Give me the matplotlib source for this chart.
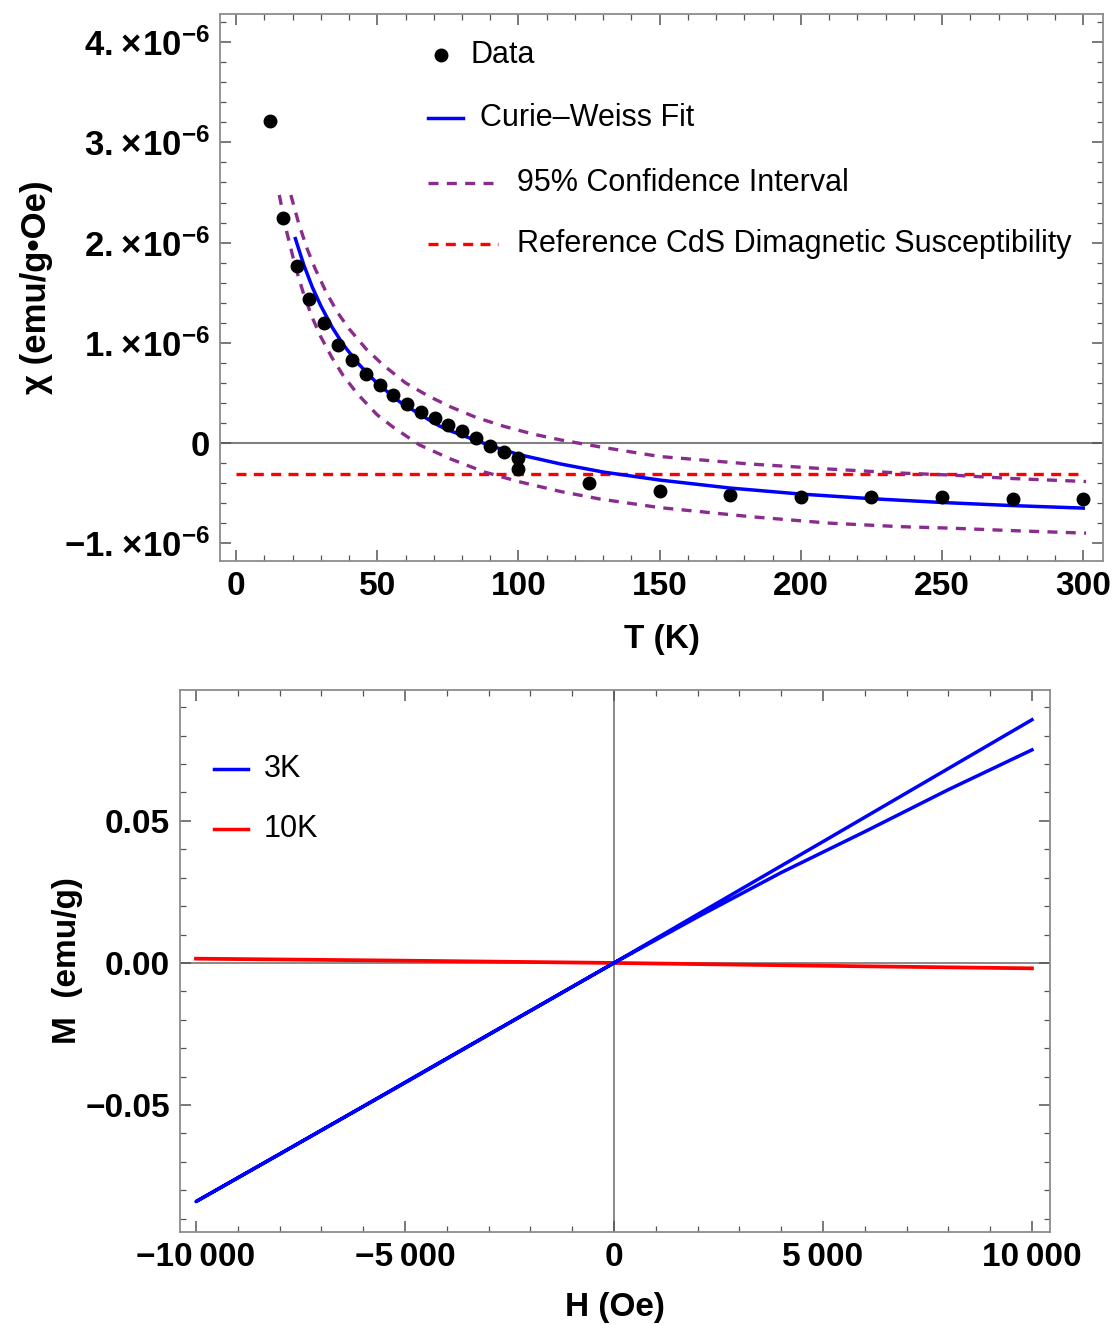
import numpy as np
import matplotlib
matplotlib.use('Agg')
import matplotlib.pyplot as plt
from matplotlib.ticker import MultipleLocator, FixedLocator, FuncFormatter
from matplotlib.lines import Line2D

plt.rcParams['font.family'] = ['Liberation Sans', 'DejaVu Sans']
plt.rcParams['mathtext.fontset'] = 'custom'
plt.rcParams['mathtext.rm'] = 'Liberation Sans'
plt.rcParams['mathtext.bf'] = 'Liberation Sans:bold'

# susceptibility vs temperature, chi in units of 1e-6 emu/(g Oe)
T_data = [12, 16.5, 21.5, 26, 31, 36, 41, 46, 51, 55.5, 60.5, 65.5, 70.5, 75, 80,
          85, 90, 95, 100, 100, 125, 150, 175, 200, 225, 250, 275, 300]
chi_data = [3.21, 2.245, 1.77, 1.44, 1.195, 0.98, 0.83, 0.69, 0.576, 0.48, 0.39,
            0.31, 0.25, 0.18, 0.12, 0.05, -0.03, -0.09, -0.15, -0.26, -0.40, -0.48,
            -0.52, -0.54, -0.535, -0.535, -0.56, -0.56]

T_fit = [21, 24, 27, 30, 34, 38, 43, 50, 58, 66, 72, 76, 85, 92, 100, 115, 130,
         150, 175, 200, 225, 250, 275, 300]
chi_fit = [2.04, 1.776, 1.555, 1.37, 1.156, 0.98, 0.80, 0.594, 0.41, 0.27, 0.17,
           0.12, 0.025, -0.045, -0.115, -0.21, -0.29, -0.37, -0.45, -0.51, -0.556,
           -0.594, -0.625, -0.65]

T_ci_hi = [19.4, 22, 25, 28, 32, 36, 40, 46, 52, 60, 68, 76, 85, 95, 105, 115, 129,
           150, 182, 210, 235, 253, 275, 301]
chi_ci_hi = [2.475, 2.21, 1.95, 1.74, 1.50, 1.30, 1.14, 0.94, 0.78, 0.60, 0.47, 0.36,
             0.255, 0.165, 0.09, 0.03, -0.04, -0.135, -0.21, -0.26, -0.30, -0.32,
             -0.355, -0.385]

T_ci_lo = [15.3, 18, 21, 24, 27, 30, 34, 38, 43, 50, 56, 65, 76, 88, 100, 115, 129,
           150, 182, 210, 235, 253, 275, 301]
chi_ci_lo = [2.475, 2.10, 1.76, 1.48, 1.25, 1.06, 0.85, 0.67, 0.49, 0.28, 0.15, -0.02,
             -0.16, -0.29, -0.385, -0.485, -0.56, -0.645, -0.735, -0.80, -0.835, -0.85,
             -0.875, -0.90]

T_ref = [0, 300]
chi_ref = [-0.31, -0.31]

# M-H loops
H_3K = [10000, 8000, 6000, 4000, 2000, 0, -2000, -4000, -6000, -8000, -10000,
        -5000, 0, 5000, 10000]
M_3K = [0.0750, 0.0610, 0.0462, 0.0318, 0.0162, 0.0, -0.0168, -0.0336, -0.0505,
        -0.0673, -0.0840, -0.0422, 0.0, 0.0427, 0.0856]
H_10K = [-10000, -5000, 0, 5000, 10000]
M_10K = [0.0015, 0.0008, 0.0, -0.0010, -0.0019]

purple = '#8a2c8e'
frame_col = '#8c8c8c'
lw = 2.4

fig = plt.figure(figsize=(11.17, 13.25), dpi=100)
ax1 = fig.add_axes([0.1970, 0.5766, 0.7905, 0.4128])
ax2 = fig.add_axes([0.1611, 0.0702, 0.7789, 0.4091])


def style_frame(ax, size):
    for s in ax.spines.values():
        s.set_color(frame_col)
        s.set_linewidth(1.3)
    ax.tick_params(which='both', direction='in', top=True, right=True,
                   color='#555555', labelsize=size, pad=7)
    ax.tick_params(which='major', length=8, width=1.1)
    ax.tick_params(which='minor', length=4.5, width=0.9)
    for lab in ax.get_xticklabels() + ax.get_yticklabels():
        lab.set_fontweight('bold')


# top panel
ax1.axhline(0, color='#808080', lw=1.5, zorder=1)
ax1.plot(T_ref, chi_ref, color='red', lw=lw, dashes=(3, 2.2), zorder=2)
ax1.plot(T_ci_hi, chi_ci_hi, color=purple, lw=lw, dashes=(3, 2.5), zorder=2)
ax1.plot(T_ci_lo, chi_ci_lo, color=purple, lw=lw, dashes=(3, 2.5), zorder=2)
ax1.plot(T_fit, chi_fit, color='blue', lw=2.5, zorder=3)
ax1.plot(T_data, chi_data, 'o', color='black', ms=9, zorder=4)

ax1.set_xlim(-5.67, 307.0)
ax1.set_ylim(-1.178, 4.281)
ax1.xaxis.set_major_locator(MultipleLocator(50))
ax1.xaxis.set_minor_locator(MultipleLocator(10))
ax1.yaxis.set_major_locator(MultipleLocator(1))
ax1.yaxis.set_minor_locator(MultipleLocator(0.2))


def chi_fmt(v, pos):
    if abs(v) < 1e-9:
        return r'$\mathbf{0}$'
    return r'$\mathbf{%d.\!\times\!10^{-6}}$' % round(v)


ax1.yaxis.set_major_formatter(FuncFormatter(chi_fmt))
style_frame(ax1, 24)
ax1.tick_params(axis='y', labelsize=25)
ax1.set_xlabel('T (K)', fontsize=24, fontweight='bold', labelpad=16)
ax1.set_ylabel('χ (emu/g•Oe)', fontsize=25, fontweight='bold', labelpad=8)

# legend drawn in axes coordinates
tr = ax1.transAxes
ax1.add_line(Line2D([0.2503], [0.925], marker='o', color='black', ms=9, transform=tr))
ax1.text(0.2831, 0.925, 'Data', transform=tr, fontsize=22, va='center')
ax1.add_line(Line2D([0.2356, 0.2752], [0.8099, 0.8099], color='blue', lw=2.5, transform=tr))
ax1.text(0.2945, 0.8099, 'Curie\u2013Weiss Fit', transform=tr, fontsize=22, va='center')
ax1.add_line(Line2D([0.2356, 0.3148], [0.691, 0.691], color=purple, lw=lw,
                    dashes=(3, 2.5), transform=tr))
ax1.text(0.3364, 0.691, '95% Confidence Interval', transform=tr, fontsize=22, va='center')
ax1.add_line(Line2D([0.2356, 0.3148], [0.5795, 0.5795], color='red', lw=lw,
                    dashes=(3, 2.2), transform=tr))
ax1.text(0.3364, 0.5795, 'Reference CdS Dimagnetic Susceptibility', transform=tr,
         fontsize=22, va='center')

# bottom panel
ax2.axhline(0, color='#808080', lw=1.3, zorder=1)
ax2.axvline(0, color='#808080', lw=1.3, zorder=1)
ax2.plot(H_10K, M_10K, color='red', lw=2.7, zorder=2)
ax2.plot(H_3K, M_3K, color='blue', lw=2.5, zorder=3)

ax2.set_xlim(-10383, 10431)
ax2.set_ylim(-0.0947, 0.0961)
ax2.xaxis.set_major_locator(FixedLocator([-10000, -5000, 0, 5000, 10000]))
ax2.xaxis.set_minor_locator(MultipleLocator(1000))
ax2.yaxis.set_major_locator(FixedLocator([-0.05, 0.0, 0.05]))
ax2.yaxis.set_minor_locator(MultipleLocator(0.01))


def h_fmt(v, pos):
    s = '%d' % abs(round(v))
    if len(s) > 3:
        s = s[:-3] + '\u2009' + s[-3:]
    return ('\u2212' if v < 0 else '') + s


def m_fmt(v, pos):
    return ('\u2212' if v < -1e-9 else '') + '%.2f' % abs(v)


ax2.xaxis.set_major_formatter(FuncFormatter(h_fmt))
ax2.yaxis.set_major_formatter(FuncFormatter(m_fmt))
style_frame(ax2, 24)
ax2.set_xlabel('H (Oe)', fontsize=24, fontweight='bold', labelpad=14)
ax2.set_ylabel('M  (emu/g)', fontsize=24, fontweight='bold', labelpad=2)

tr2 = ax2.transAxes
ax2.add_line(Line2D([0.0391, 0.0782], [0.8542, 0.8542], color='blue', lw=2.5, transform=tr2))
ax2.text(0.0966, 0.8542, '3K', transform=tr2, fontsize=22, va='center')
ax2.add_line(Line2D([0.0391, 0.0782], [0.7435, 0.7435], color='red', lw=2.5, transform=tr2))
ax2.text(0.0966, 0.7435, '10K', transform=tr2, fontsize=22, va='center')

fig.savefig('out.png', dpi=100)
